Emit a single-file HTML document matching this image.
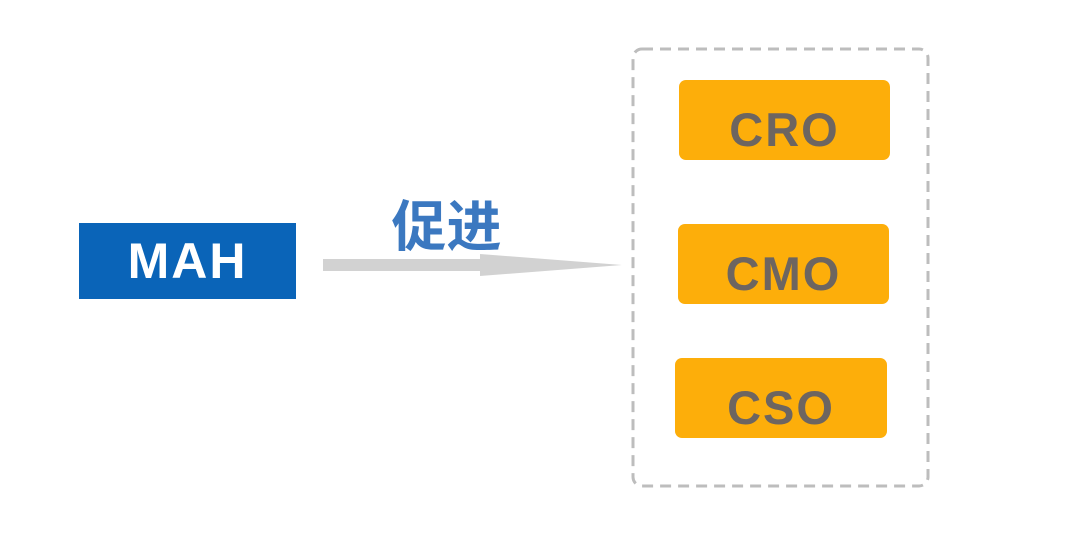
<!DOCTYPE html>
<html><head><meta charset="utf-8"><style>
body{margin:0;width:1080px;height:537px;background:#fff;position:relative;overflow:hidden;font-family:"Liberation Sans","Noto Sans CJK SC",sans-serif}
.b{position:absolute;display:flex;align-items:center;justify-content:center;font-weight:bold}
.o{background:#fdae0a;border-radius:7px;color:#6d6560;font-size:47px;letter-spacing:2px;width:211px;height:80px;box-sizing:border-box;padding-top:18px}
</style></head><body>
<div class="b" style="left:79px;top:223px;width:217px;height:76px;background:#0a64b8;color:#fff;font-size:50px;letter-spacing:2px">MAH</div>
<div class="b" style="left:384px;top:192px;width:125px;height:60px;color:#3b78c0;font-size:55px">促进</div>
<svg style="position:absolute;left:0;top:0" width="1080" height="537">
<polygon points="323,259 480,259 480,254 622,265 480,276 480,271 323,271" fill="#d2d2d2"/>
<rect x="633" y="49" width="295" height="437" rx="9" fill="none" stroke="#bdbdbd" stroke-width="3" stroke-dasharray="11,7"/>
</svg>
<div class="b o" style="left:679px;top:80px">CRO</div>
<div class="b o" style="left:678px;top:224px">CMO</div>
<div class="b o" style="left:675px;top:358px;width:212px">CSO</div>
</body></html>
